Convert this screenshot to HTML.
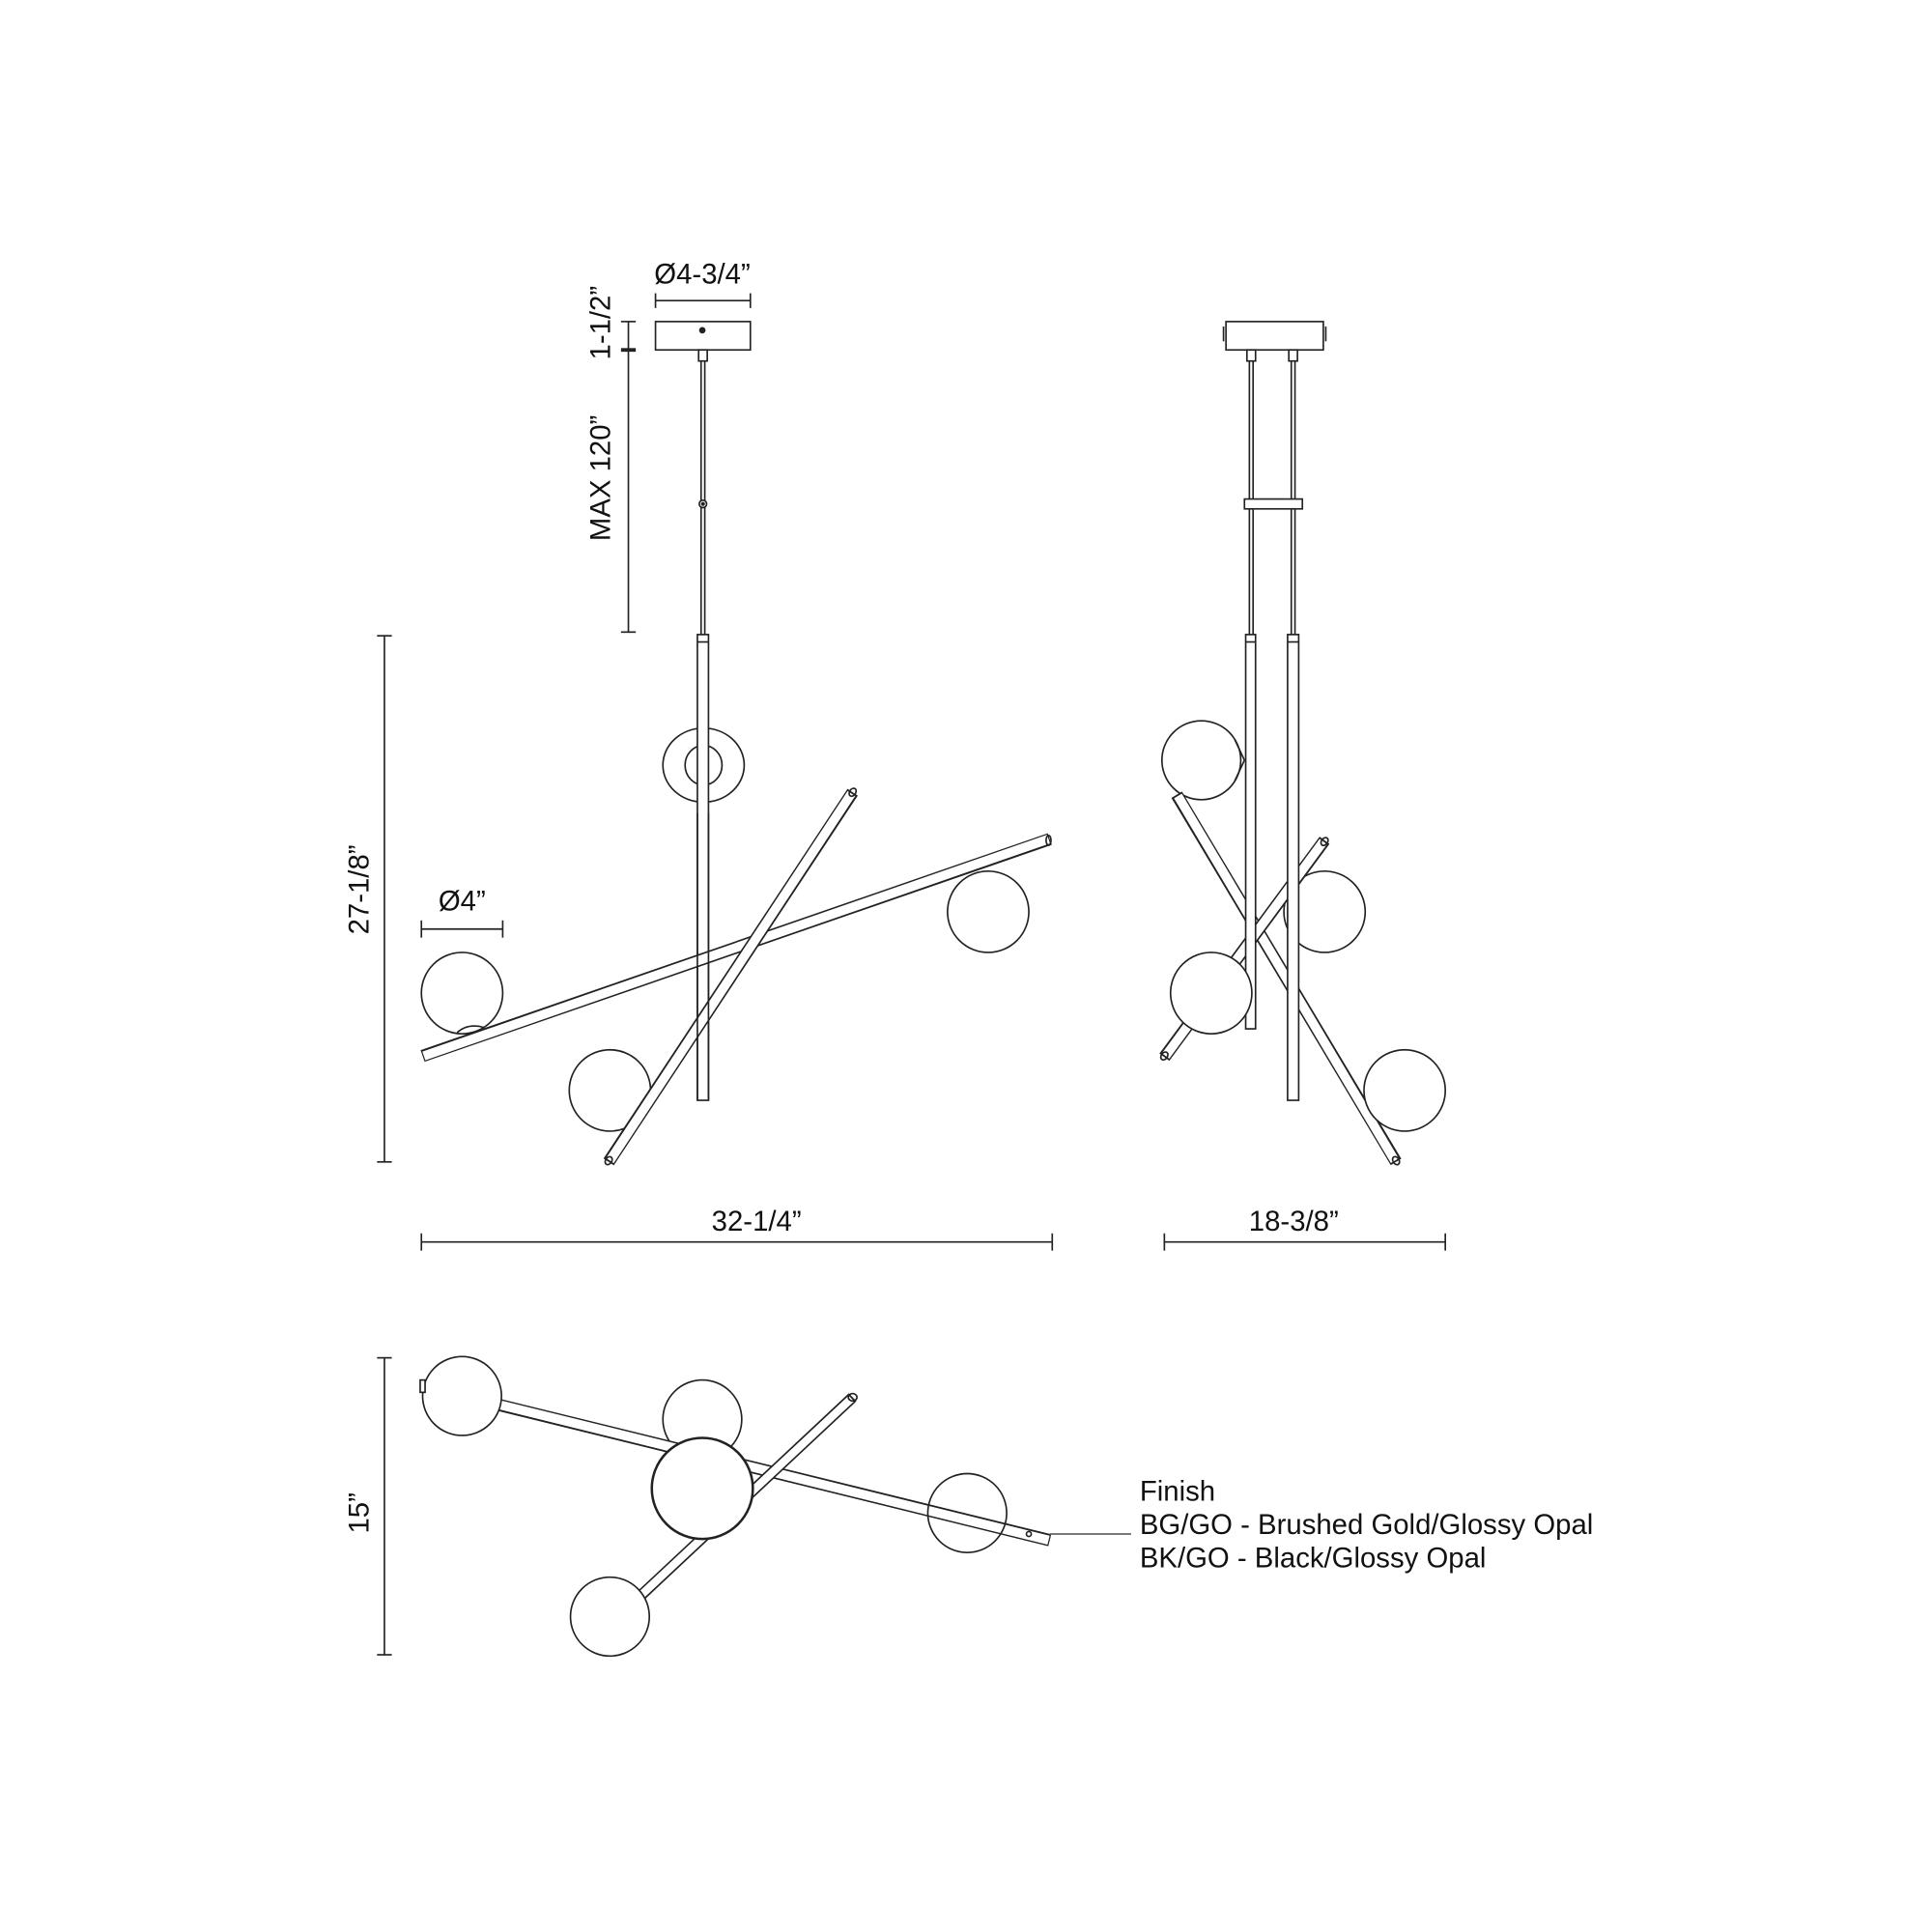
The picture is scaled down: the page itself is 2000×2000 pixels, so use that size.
<!DOCTYPE html>
<html><head><meta charset="utf-8"><style>
html,body{margin:0;padding:0;background:#fff;}
svg{display:block;}
text{font-family:"Liberation Sans",Arial,sans-serif;fill:#111;}
</style></head><body>
<svg width="2000" height="2000" viewBox="0 0 1568 1568" xmlns="http://www.w3.org/2000/svg">
<rect width="1568" height="1568" fill="#fff"/>
<g fill="none" stroke="#222" stroke-width="1.3">
<line x1="532" y1="244" x2="609" y2="244"/><line x1="532" y1="238" x2="532" y2="250"/><line x1="609" y1="238" x2="609" y2="250"/>
<line x1="510" y1="261" x2="510" y2="513"/>
<line x1="504" y1="261" x2="516" y2="261"/><line x1="504" y1="284" x2="516" y2="284" stroke-width="3"/><line x1="504" y1="513" x2="516" y2="513"/>
<line x1="312" y1="516" x2="312" y2="943"/><line x1="306" y1="516" x2="318" y2="516"/><line x1="306" y1="943" x2="318" y2="943"/>
<line x1="342" y1="1008" x2="854" y2="1008"/><line x1="342" y1="1001" x2="342" y2="1015"/><line x1="854" y1="1001" x2="854" y2="1015"/>
<line x1="342" y1="754" x2="408" y2="754"/><line x1="342" y1="747" x2="342" y2="761"/><line x1="408" y1="747" x2="408" y2="761"/>
<rect x="532" y="261" width="77" height="23" fill="#fff"/>
<circle cx="570" cy="268" r="2" fill="#222"/>
<rect x="567" y="284" width="7" height="9" fill="#fff"/>
<line x1="569" y1="293" x2="569" y2="515"/><line x1="572" y1="293" x2="572" y2="515"/>
<circle cx="570.5" cy="409" r="3" fill="#fff"/><circle cx="570.5" cy="409" r="1" fill="#222"/>
<ellipse cx="571" cy="621" rx="33" ry="30" fill="#fff"/>
<ellipse cx="571" cy="621" rx="15" ry="16"/>
<rect x="566" y="515" width="9" height="378" fill="#fff"/>
<line x1="566" y1="521" x2="575" y2="521"/>
<circle cx="375" cy="806" r="33" fill="#fff"/>
<circle cx="802" cy="740" r="33" fill="#fff"/>
<circle cx="495" cy="885" r="33" fill="#fff"/>
</g>
<g stroke-linecap="butt">
<line x1="343" y1="857" x2="852" y2="681" stroke="#222" stroke-width="10"/>
<line x1="344" y1="857" x2="851" y2="681" stroke="#fff" stroke-width="7.4"/>
<line x1="494" y1="943" x2="692" y2="643" stroke="#222" stroke-width="10"/>
<line x1="495" y1="942" x2="691" y2="644" stroke="#fff" stroke-width="7.4"/>
</g>
<g fill="none" stroke="#222" stroke-width="1.3">
<line x1="566" y1="660" x2="566" y2="893"/><line x1="575" y1="660" x2="575" y2="893"/>
<ellipse cx="692" cy="643" rx="3.5" ry="2.5" transform="rotate(-56 692 643)"/>
<ellipse cx="494" cy="942" rx="3.5" ry="2.5" transform="rotate(-56 494 942)"/>
<ellipse cx="851" cy="682" rx="2" ry="4"/>
<path d="M371 838 Q380 830 393 834"/>
<rect x="995" y="261" width="79" height="23" fill="#fff"/>
<line x1="993" y1="265" x2="993" y2="277"/><line x1="1076" y1="265" x2="1076" y2="277"/>
<rect x="1012" y="284" width="7" height="9" fill="#fff"/><rect x="1046" y="284" width="7" height="9" fill="#fff"/>
<line x1="1014" y1="293" x2="1014" y2="515"/><line x1="1017" y1="293" x2="1017" y2="515"/>
<line x1="1048" y1="293" x2="1048" y2="515"/><line x1="1051" y1="293" x2="1051" y2="515"/>
<rect x="1010" y="405" width="47" height="8" fill="#fff"/>
<circle cx="975" cy="617" r="32" fill="#fff"/>
<line x1="1002" y1="600" x2="1010" y2="617"/><line x1="1002" y1="634" x2="1010" y2="617"/>
<circle cx="1075" cy="740" r="33" fill="#fff"/>
</g>
<g>
<line x1="955" y1="645" x2="1133" y2="943" stroke="#222" stroke-width="10"/>
<line x1="956" y1="646" x2="1132" y2="942" stroke="#fff" stroke-width="7.4"/>
<line x1="945" y1="858" x2="1075" y2="682" stroke="#222" stroke-width="10"/>
<line x1="946" y1="857" x2="1074" y2="683" stroke="#fff" stroke-width="7.4"/>
</g>
<g fill="none" stroke="#222" stroke-width="1.3">
<rect x="1011" y="515" width="8" height="320" fill="#fff"/><line x1="1011" y1="521" x2="1019" y2="521"/>
<rect x="1045" y="515" width="9" height="378" fill="#fff"/><line x1="1045" y1="521" x2="1054" y2="521"/>
<circle cx="983" cy="806" r="33" fill="#fff"/>
<circle cx="1140" cy="885" r="33" fill="#fff"/>
<ellipse cx="945" cy="857" rx="3.5" ry="2.5" transform="rotate(-54 945 857)"/>
<ellipse cx="1133" cy="942" rx="3.5" ry="2.5" transform="rotate(59 1133 942)"/>
<ellipse cx="1075" cy="683" rx="3.5" ry="2.5" transform="rotate(-54 1075 683)"/>
<line x1="945" y1="1008" x2="1173" y2="1008"/><line x1="945" y1="1001" x2="945" y2="1015"/><line x1="1173" y1="1001" x2="1173" y2="1015"/>
<line x1="312" y1="1102" x2="312" y2="1343"/><line x1="306" y1="1102" x2="318" y2="1102"/><line x1="306" y1="1343" x2="318" y2="1343"/>
<circle cx="570" cy="1152" r="32" fill="#fff"/>
</g>
<g>
<line x1="400" y1="1139" x2="852" y2="1250" stroke="#222" stroke-width="10"/>
<line x1="401" y1="1139" x2="851" y2="1250" stroke="#fff" stroke-width="7.4"/>
<line x1="692" y1="1134" x2="520" y2="1295" stroke="#222" stroke-width="9"/>
<line x1="691" y1="1135" x2="521" y2="1294" stroke="#fff" stroke-width="6.4"/>
</g>
<g fill="none" stroke="#222" stroke-width="1.3">
<ellipse cx="692" cy="1134" rx="3.5" ry="3"/>
<circle cx="375" cy="1133" r="32" fill="#fff"/>
<rect x="341" y="1120" width="4" height="10" fill="#fff"/>
<circle cx="785" cy="1228" r="32" fill="none"/>
<circle cx="570" cy="1208" r="41" fill="#fff" stroke-width="2"/>
<circle cx="495" cy="1312" r="32" fill="#fff"/>
<circle cx="835" cy="1245" r="2"/>
<line x1="852" y1="1245" x2="918" y2="1245" stroke="#666"/>
</g>
<g font-size="23">
<text x="570" y="230" text-anchor="middle">Ø4-3/4”</text>
<text transform="translate(495,262) rotate(-90)" text-anchor="middle">1-1/2”</text>
<text transform="translate(495,388) rotate(-90)" text-anchor="middle">MAX 120”</text>
<text transform="translate(299,722) rotate(-90)" text-anchor="middle">27-1/8”</text>
<text x="375" y="739" text-anchor="middle">Ø4”</text>
<text x="614" y="999" text-anchor="middle">32-1/4”</text>
<text x="1050" y="999" text-anchor="middle">18-3/8”</text>
<text transform="translate(299,1228) rotate(-90)" text-anchor="middle">15”</text>
<text x="925" y="1218">Finish</text>
<text x="925" y="1245">BG/GO - Brushed Gold/Glossy Opal</text>
<text x="925" y="1272">BK/GO - Black/Glossy Opal</text>
</g>
</svg>
</body></html>
